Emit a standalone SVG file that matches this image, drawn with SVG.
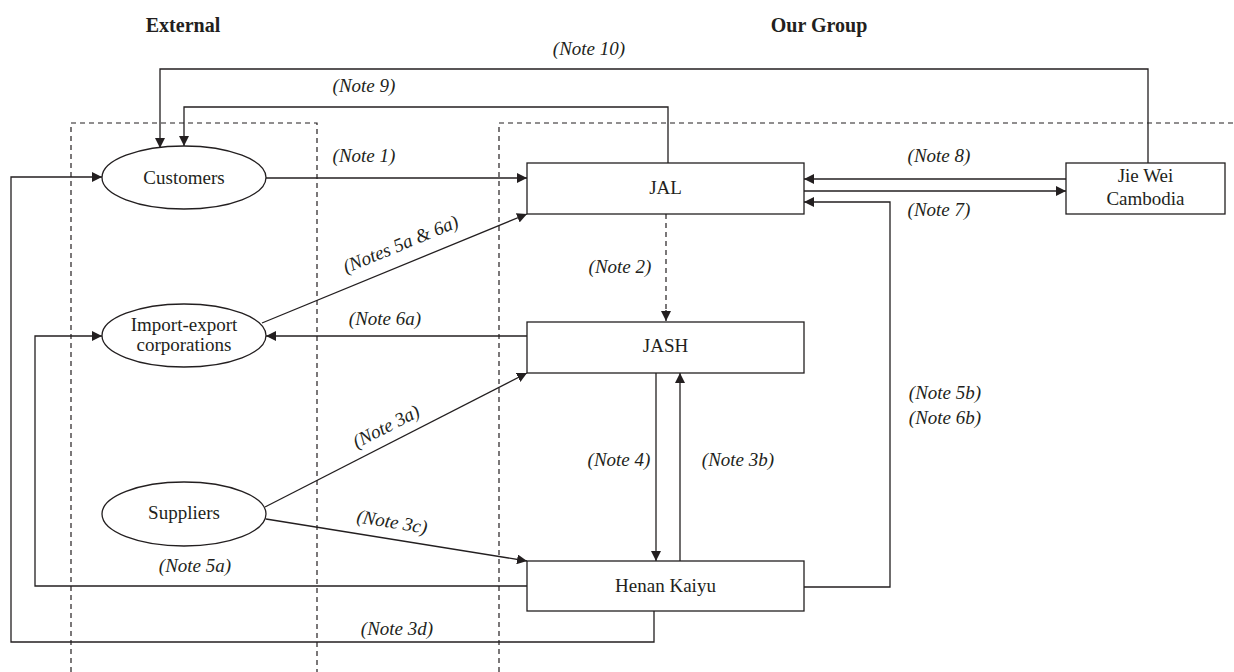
<svg xmlns="http://www.w3.org/2000/svg" width="1234" height="672" viewBox="0 0 1234 672">
<defs>
<marker id="ah" viewBox="0 0 10 10" refX="10" refY="5" markerWidth="10" markerHeight="10" markerUnits="userSpaceOnUse" orient="auto">
<path d="M0,0 L10,5 L0,10 z" fill="#231f20"/>
</marker>
<style>
.hd{font-family:"Liberation Serif","Times New Roman",serif;font-weight:bold;font-size:20px;fill:#231f20;text-anchor:middle}
.lb{font-family:"Liberation Serif","Times New Roman",serif;font-size:19px;fill:#231f20;text-anchor:middle}
.nt{font-family:"Liberation Serif","Times New Roman",serif;font-style:italic;font-size:19px;fill:#231f20;text-anchor:middle}
.shape{fill:#fff;stroke:#231f20;stroke-width:1.3}
.c{fill:none;stroke:#231f20;stroke-width:1.3}
.ca{fill:none;stroke:#231f20;stroke-width:1.3;marker-end:url(#ah)}
.dash{fill:none;stroke:#231f20;stroke-width:1.2;stroke-dasharray:5,4}
</style>
</defs>
<rect width="1234" height="672" fill="#fff"/>

<g id="regions">
<polyline class="dash" points="71,672 71,123 317,123 317,672"/>
<polyline class="dash" points="499,672 499,123 1234,123"/>
<text class="hd" x="183" y="32">External</text>
<text class="hd" x="819" y="32">Our Group</text>
</g>

<g id="connectors">
<polyline class="ca" points="1148,163 1148,69 160,69 160,148"/>
<polyline class="ca" points="668,163 668,107 184,107 184,146"/>
<line class="ca" x1="266" y1="178" x2="527" y2="178"/>
<polyline class="ca" points="654,611 654,642 11,642 11,177 102,177"/>
<line class="ca" x1="1066" y1="179" x2="804" y2="179"/>
<line class="ca" x1="804" y1="191" x2="1066" y2="191"/>
<polyline class="ca" points="804,587 890,587 890,202 804,202"/>
<line class="ca" x1="262" y1="323" x2="527" y2="214"/>
<line class="dash" x1="666" y1="214" x2="666" y2="313"/>
<line class="ca" x1="666" y1="310" x2="666" y2="321"/>
<line class="ca" x1="527" y1="336" x2="266" y2="336"/>
<polyline class="ca" points="527,586 35,586 35,336 102,336"/>
<line class="ca" x1="265" y1="507" x2="527" y2="373"/>
<line class="ca" x1="266" y1="519" x2="527" y2="561"/>
<line class="ca" x1="656" y1="373" x2="656" y2="561"/>
<line class="ca" x1="680" y1="561" x2="680" y2="373"/>

<text class="nt" x="589" y="55">(Note 10)</text>
<text class="nt" x="364" y="92">(Note 9)</text>
<text class="nt" x="364" y="162">(Note 1)</text>
<text class="nt" x="939" y="162">(Note 8)</text>
<text class="nt" x="939" y="216">(Note 7)</text>
<text class="nt" transform="translate(403,250) rotate(-22.5)">(Notes 5a &amp; 6a)</text>
<text class="nt" x="620" y="273">(Note 2)</text>
<text class="nt" x="385" y="325">(Note 6a)</text>
<text class="nt" x="945" y="399">(Note 5b)</text>
<text class="nt" x="945" y="424">(Note 6b)</text>
<text class="nt" transform="translate(389,432) rotate(-27)">(Note 3a)</text>
<text class="nt" x="619" y="466">(Note 4)</text>
<text class="nt" x="738" y="466">(Note 3b)</text>
<text class="nt" transform="translate(391,528) rotate(9.5)">(Note 3c)</text>
<text class="nt" x="195" y="572">(Note 5a)</text>
<text class="nt" x="397" y="635">(Note 3d)</text>
</g>

<g id="customers">
<ellipse class="shape" cx="184" cy="177.5" rx="82" ry="31.5"/>
<text class="lb" x="184" y="184">Customers</text>
</g>
<g id="import-export">
<ellipse class="shape" cx="184" cy="335.5" rx="82" ry="31.5"/>
<text class="lb" x="184" y="331">Import-export</text>
<text class="lb" x="184" y="351">corporations</text>
</g>
<g id="suppliers">
<ellipse class="shape" cx="184" cy="514" rx="82" ry="32"/>
<text class="lb" x="184" y="519">Suppliers</text>
</g>
<g id="jal">
<rect class="shape" x="527" y="163" width="277" height="51"/>
<text class="lb" x="665.5" y="194">JAL</text>
</g>
<g id="jie-wei">
<rect class="shape" x="1066" y="163" width="159" height="51"/>
<text class="lb" x="1145.5" y="182">Jie Wei</text>
<text class="lb" x="1145.5" y="205">Cambodia</text>
</g>
<g id="jash">
<rect class="shape" x="527" y="322" width="277" height="51"/>
<text class="lb" x="665.5" y="352">JASH</text>
</g>
<g id="henan-kaiyu">
<rect class="shape" x="527" y="561" width="277" height="50"/>
<text class="lb" x="665.5" y="592">Henan Kaiyu</text>
</g>
</svg>
